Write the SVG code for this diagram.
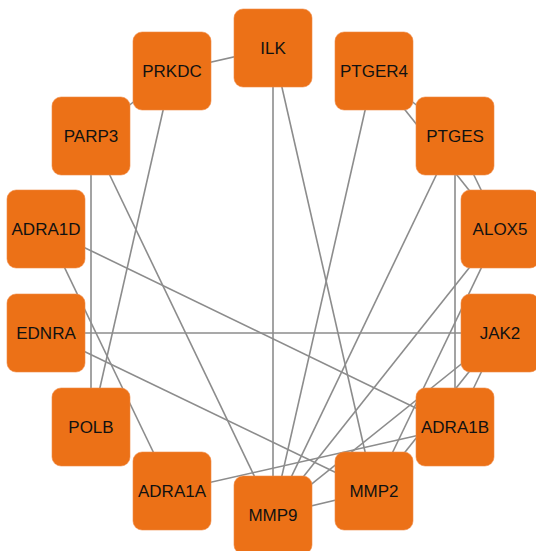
<svg xmlns="http://www.w3.org/2000/svg" width="536" height="551" viewBox="0 0 536 551">
<style>
.e{stroke:#8c8c8c;stroke-width:1.6;fill:none}
.n rect{fill:#ec7117;stroke:#f08a45;stroke-width:0.6}
.n text{font-family:"Liberation Sans",Arial,sans-serif;font-size:17px;fill:#111;text-anchor:middle}
</style>
<rect width="536" height="551" fill="#fff"/>
<g id="edges">
<line class="e" x1="273" y1="48" x2="172" y2="71"/>
<line class="e" x1="273" y1="48" x2="273" y2="515"/>
<line class="e" x1="273" y1="48" x2="374" y2="491"/>
<line class="e" x1="172" y1="71" x2="91" y2="136"/>
<line class="e" x1="172" y1="71" x2="91" y2="427"/>
<line class="e" x1="91" y1="136" x2="91" y2="427"/>
<line class="e" x1="91" y1="136" x2="273" y2="515"/>
<line class="e" x1="374" y1="71" x2="455" y2="136"/>
<line class="e" x1="374" y1="71" x2="500" y2="229"/>
<line class="e" x1="374" y1="71" x2="273" y2="515"/>
<line class="e" x1="455" y1="136" x2="500" y2="229"/>
<line class="e" x1="455" y1="136" x2="455" y2="427"/>
<line class="e" x1="455" y1="136" x2="273" y2="515"/>
<line class="e" x1="500" y1="229" x2="273" y2="515"/>
<line class="e" x1="500" y1="229" x2="374" y2="491"/>
<line class="e" x1="46" y1="229" x2="455" y2="427"/>
<line class="e" x1="46" y1="229" x2="172" y2="491"/>
<line class="e" x1="46" y1="333" x2="500" y2="333"/>
<line class="e" x1="46" y1="333" x2="374" y2="491"/>
<line class="e" x1="500" y1="333" x2="273" y2="515"/>
<line class="e" x1="500" y1="333" x2="374" y2="491"/>
<line class="e" x1="500" y1="333" x2="455" y2="427"/>
<line class="e" x1="172" y1="491" x2="455" y2="427"/>
<line class="e" x1="374" y1="491" x2="273" y2="515"/>
</g>
<g id="ILK" class="n"><rect x="234" y="9" width="78" height="78" rx="9"/><text x="273" y="54">ILK</text></g>
<g id="PRKDC" class="n"><rect x="133" y="32" width="78" height="78" rx="9"/><text x="172" y="77">PRKDC</text></g>
<g id="PTGER4" class="n"><rect x="335" y="32" width="78" height="78" rx="9"/><text x="374" y="77">PTGER4</text></g>
<g id="PARP3" class="n"><rect x="52" y="97" width="78" height="78" rx="9"/><text x="91" y="142">PARP3</text></g>
<g id="PTGES" class="n"><rect x="416" y="97" width="78" height="78" rx="9"/><text x="455" y="142">PTGES</text></g>
<g id="ADRA1D" class="n"><rect x="7" y="190" width="78" height="78" rx="9"/><text x="46" y="235">ADRA1D</text></g>
<g id="ALOX5" class="n"><rect x="461" y="190" width="78" height="78" rx="9"/><text x="500" y="235">ALOX5</text></g>
<g id="EDNRA" class="n"><rect x="7" y="294" width="78" height="78" rx="9"/><text x="46" y="339">EDNRA</text></g>
<g id="JAK2" class="n"><rect x="461" y="294" width="78" height="78" rx="9"/><text x="500" y="339">JAK2</text></g>
<g id="POLB" class="n"><rect x="52" y="388" width="78" height="78" rx="9"/><text x="91" y="433">POLB</text></g>
<g id="ADRA1B" class="n"><rect x="416" y="388" width="78" height="78" rx="9"/><text x="455" y="433">ADRA1B</text></g>
<g id="ADRA1A" class="n"><rect x="133" y="452" width="78" height="78" rx="9"/><text x="172" y="497">ADRA1A</text></g>
<g id="MMP2" class="n"><rect x="335" y="452" width="78" height="78" rx="9"/><text x="374" y="497">MMP2</text></g>
<g id="MMP9" class="n"><rect x="234" y="476" width="78" height="78" rx="9"/><text x="273" y="521">MMP9</text></g>
</svg>
